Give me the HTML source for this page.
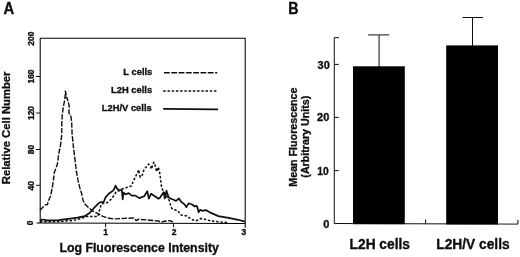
<!DOCTYPE html>
<html><head><meta charset="utf-8">
<style>
html,body{margin:0;padding:0;background:#fff;}
body{width:520px;height:257px;overflow:hidden;}
svg{display:block;}
text{font-family:"Liberation Sans",sans-serif;font-weight:bold;fill:#0a0a0a;stroke:#0a0a0a;stroke-width:0.3px;}
</style></head><body>
<svg width="520" height="257" viewBox="0 0 520 257">
<defs><filter id="sf" x="0" y="0" width="520" height="257" filterUnits="userSpaceOnUse"><feGaussianBlur stdDeviation="0.35"/></filter></defs>
<rect width="520" height="257" fill="#fff"/>
<g filter="url(#sf)">
<!-- Panel A -->
<text transform="translate(3.6,13.7) scale(1,1.1)" font-size="14.8" stroke-width="0.45">A</text>
<path d="M40.2,222.9 L40.2,38.2 L245.2,38.3 L245.2,227.8 M36.5,222.9 L245.2,223.5" fill="none" stroke="#000" stroke-width="1.05"/>
<g stroke="#111" stroke-width="1">
<line x1="36" y1="76.5" x2="40" y2="76.5"/>
<line x1="36" y1="113" x2="40" y2="113"/>
<line x1="36" y1="149.5" x2="40" y2="149.5"/>
<line x1="36" y1="185.3" x2="40" y2="185.3"/>
<line x1="105.6" y1="223" x2="105.6" y2="227.3"/>
<line x1="173.6" y1="223" x2="173.6" y2="227.3"/>
</g>
<g font-size="8.5" text-anchor="middle">
<text transform="translate(34.3,38.7) rotate(-90)">200</text>
<text transform="translate(33.9,76.5) rotate(-90)">160</text>
<text transform="translate(33.9,113) rotate(-90)">120</text>
<text transform="translate(33.9,149.5) rotate(-90)">80</text>
<text transform="translate(33.9,185.8) rotate(-90)">40</text>
<text transform="translate(33.2,222.8) rotate(-90)">0</text>
<text x="105.7" y="235.3">1</text>
<text x="174" y="235.3">2</text>
<text x="243.9" y="235.3">3</text>
</g>
<text transform="translate(10.2,127.9) rotate(-90)" font-size="11.28" text-anchor="middle">Relative Cell Number</text>
<text x="139.15" y="251.9" font-size="12.32" text-anchor="middle">Log Fluorescence Intensity</text>
<!-- legend -->
<g font-size="9.35" text-anchor="end">
<text transform="translate(152.3,75.2) scale(1,1.02)">L cells</text>
<text transform="translate(152.1,93.3) scale(1,1.02)">L2H cells</text>
<text transform="translate(151.7,111.3) scale(1,1.05)">L2H/V cells</text>
</g>
<g stroke="#111" stroke-width="1.3" fill="none">
<line x1="164" y1="72.7" x2="217.2" y2="72.7" stroke-width="1.35" stroke-dasharray="5.8 1.5"/>
<line x1="163.2" y1="91.1" x2="216.4" y2="91.1" stroke-width="1.5" stroke-dasharray="2.5 1.73"/>
<line x1="163.2" y1="108.8" x2="218" y2="109.3" stroke-width="1.7"/>
</g>
<!-- curves -->
<g fill="none" stroke="#111" stroke-linejoin="round">
<polyline stroke-width="1.4" stroke-dasharray="5.4 1.5" points="40,210.2 43.1,207.1 45.6,204.7 47.5,204.6 48.1,201.5 50.6,196 51.2,193 52.5,186.4 53.4,180.2 54.3,172.7 57.4,164 58.7,153.9 60.5,145.2 61.8,134 61.8,123.3 62.2,115.2 63.3,107 64.7,100 65.2,95.3 65.4,91.1 66.1,94.4 65.4,97 67,97.7 68,101.2 69.2,105.8 68.9,112.8 70.9,116.3 71.7,122.2 72.1,134 73.4,146.5 75.5,164 76.4,171.5 78,180.2 79.8,187.7 81.7,194 83,200.2 84.8,204 87.9,207.1 92.3,210.8 98.5,213.9 103.1,216.4 107.5,218 113.7,218.9 124.9,218.4 133.6,218 136.1,220.5 138.6,219.3 149.8,220.2 158.4,221 161.2,222.2 164,221.3 170.1,220.6 172.9,222.2"/>
<polyline stroke-width="1.5" stroke-dasharray="2.5 1.73" points="40,221.8 47,221.8 60,221.5 73.6,220.4 81.1,218.5 87.3,216.4 92.3,216.5 97.9,216.4 99.2,211.4 101,205.2 101.9,203.7 107.5,202.4 111.8,198.7 116.2,191.8 122.4,189 127.8,187.1 131.6,185.9 133.4,180.9 136.5,174.7 138.8,169.7 139.4,174 140.3,177.2 142.2,175.3 144,169.7 146.5,166.6 148.4,164.1 150.2,165.3 151.5,169.1 152.7,164.7 154,162.2 155.2,165.3 156.5,171.6 158.3,167.2 159.6,172.2 160.8,180.9 161.7,188 164.8,193.5 169.2,200.3 171.1,207.2 172.9,209.7 177.3,210.3 181,214.9 186.6,215.9 189.1,217.7 193.5,220.2 196.6,220.7 200.9,218.5 204.7,219.2 210.9,221 218.4,221.7 228.3,222.7"/>
<polyline stroke-width="1.7" points="40,221.1 41.9,219.5 47.5,220.4 58.7,220.2 68.6,218.9 77.4,217.7 84.8,216.2 89.8,212.7 94.8,207.1 98.5,203.3 101,202.1 103.7,201.8 105.6,197.4 108.7,193.7 113.1,190.6 114.3,188.7 115.6,185.6 116.8,188.1 119.3,190.6 121.8,189.7 122.7,199.3 123.4,192.5 125.5,194.3 128.6,193.1 131.8,195.6 135.5,195.6 139.2,198.1 144.2,196.2 147.3,191.2 148.8,198.7 151.1,193.7 154.8,196.2 158.5,198.7 159.9,197.8 163.6,192.2 164.8,198.5 166.5,190.7 168.6,197.2 170.5,198.5 173.6,199.7 176.1,200.9 178.9,198.5 181,201.6 184.8,204.7 186.4,207.2 188.5,203.3 192.2,204.5 194.7,206.5 196.6,205.7 197.8,208.6 198.5,212.3 200.3,209.8 202.2,210.8 205.9,210.1 210.9,212.9 218.4,216.1 228.3,217.9 238.3,219.8 244.8,221.6"/>
</g>
<!-- Panel B -->
<text transform="translate(288.3,13.8) scale(1,1.1)" font-size="14.2" stroke-width="0.45">B</text>
<g stroke="#111" stroke-width="1" fill="none">
<polyline points="339,37.7 334.3,37.7 334.3,223.5 517.9,224.1 517.9,219.8"/>
<line x1="334.3" y1="64.4" x2="338.8" y2="64.4"/>
<line x1="334.3" y1="117.4" x2="338.8" y2="117.4"/>
<line x1="334.3" y1="170.6" x2="338.8" y2="170.6"/>
<line x1="425.6" y1="223.6" x2="425.6" y2="219.3"/>
<line x1="379.1" y1="35" x2="379.1" y2="67"/>
<line x1="368.2" y1="34.9" x2="389.2" y2="34.9"/>
<line x1="472.5" y1="17.5" x2="472.5" y2="46"/>
<line x1="462.5" y1="17.5" x2="483" y2="17.5"/>
</g>
<rect x="353" y="66.3" width="51.8" height="157.9" fill="#000"/>
<rect x="446.2" y="45.4" width="51.8" height="179" fill="#000"/>
<g font-size="10.3" text-anchor="end">
<text transform="translate(329.8,68.8) scale(1.07,1)">30</text>
<text transform="translate(329.3,120.6) scale(1.07,1)">20</text>
<text transform="translate(328.8,174.6) scale(1.0,1)">10</text>
<text transform="translate(329.3,227.8) scale(1.07,1)">0</text>
</g>
<text transform="translate(297,137.1) rotate(-90)" font-size="10.7" text-anchor="middle">Mean Fluorescence</text>
<text transform="translate(308.9,136.7) rotate(-90)" font-size="10.7" text-anchor="middle">(Arbitrary Units)</text>
<text transform="translate(349.6,248.7) scale(1,1.08)" font-size="13.75">L2H cells</text>
<text transform="translate(436.3,248.7) scale(1,1.08)" font-size="13.75">L2H/V cells</text>
</g>
</svg>
</body></html>
